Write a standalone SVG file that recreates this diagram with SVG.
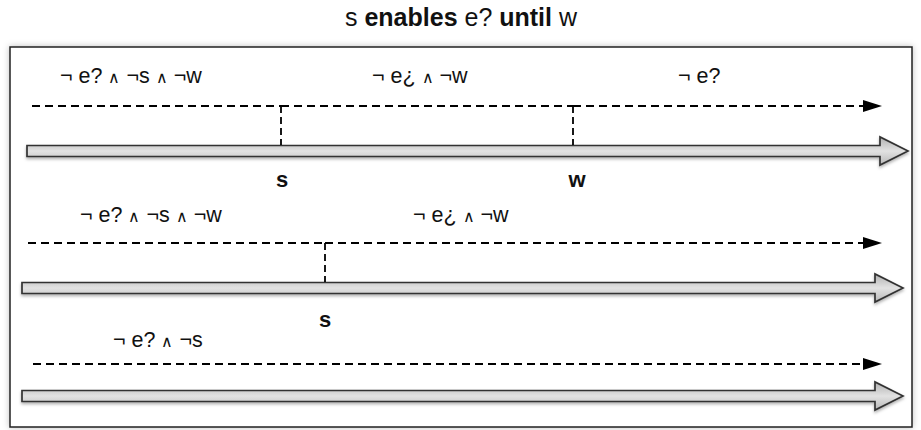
<svg xmlns="http://www.w3.org/2000/svg" width="921" height="430" viewBox="0 0 921 430">
  <style>
    .t { font-family: "Liberation Sans", Arial, sans-serif; fill: #111; }
    .title { font-size: 25px; }
    .lbl { font-size: 21.5px; }
    .and { font-size: 16px; }
    .mk { font-size: 22px; font-weight: bold; }
    .b { font-weight: bold; }
    .dash { fill: none; stroke: #000; stroke-width: 1.8; stroke-dasharray: 8 5; }
    .vdash { fill: none; stroke: #000; stroke-width: 1.8; stroke-dasharray: 7 4; }
    .big { fill: url(#shaft); stroke: #333; stroke-width: 1.7; stroke-linejoin: miter; filter: url(#sh); }
  </style>
  <defs>
    <linearGradient id="shaft" x1="0" y1="0" x2="0" y2="1">
      <stop offset="0" stop-color="#b0b0b0"/>
      <stop offset="0.5" stop-color="#e2e2e2"/>
      <stop offset="1" stop-color="#b8b8b8"/>
    </linearGradient>
    <filter id="sh" x="-5%" y="-50%" width="110%" height="200%">
      <feDropShadow dx="0" dy="2" stdDeviation="1.5" flood-color="#000" flood-opacity="0.3"/>
    </filter>
    <filter id="boxsh" x="-5%" y="-5%" width="110%" height="110%">
      <feDropShadow dx="0" dy="0" stdDeviation="3" flood-color="#000" flood-opacity="0.25"/>
    </filter>
    <marker id="ah" markerUnits="userSpaceOnUse" markerWidth="20" markerHeight="14" refX="0" refY="6" orient="auto">
      <path d="M0,0 L19,6 L0,12 Z" fill="#000" stroke="none"/>
    </marker>
  </defs>

  <text class="t title" x="461" y="26" text-anchor="middle">s <tspan class="b">enables</tspan> e? <tspan class="b">until</tspan> w</text>

  <rect id="frame" x="10" y="47" width="902" height="380" fill="#fff" stroke="#222" stroke-width="1.5" filter="url(#boxsh)"/>

  <g id="timeline1">
    <path class="big" d="M27,145.5 H880 V137 L908,151 L880,165 V156.5 H27 Z"/>
    <text class="t lbl" x="60" y="83">¬ e? <tspan class="and">∧</tspan> ¬s <tspan class="and">∧</tspan> ¬w</text>
    <text class="t lbl" x="372" y="83">¬ e¿ <tspan class="and">∧</tspan> ¬w</text>
    <text class="t lbl" x="678" y="83">¬ e?</text>
    <text class="t mk" x="282" y="187" text-anchor="middle">s</text>
    <text class="t mk" x="577" y="187" text-anchor="middle">w</text>
  </g>

  <g id="timeline2">
    <path class="big" d="M22,282.5 H875 V274 L903,288 L875,302 V293.5 H22 Z"/>
    <text class="t lbl" x="80" y="222">¬ e? <tspan class="and">∧</tspan> ¬s <tspan class="and">∧</tspan> ¬w</text>
    <text class="t lbl" x="413" y="222">¬ e¿ <tspan class="and">∧</tspan> ¬w</text>
    <text class="t mk" x="325" y="327" text-anchor="middle">s</text>
  </g>

  <g id="timeline3">
    <path class="big" d="M22,390.5 H875 V382 L903,396 L875,410 V401.5 H22 Z"/>
    <text class="t lbl" x="113" y="347">¬ e? <tspan class="and">∧</tspan> ¬s</text>
  </g>

  <g id="connectors">
    <path class="dash" d="M32,106 H281"/>
    <path class="dash" d="M281,106 H573"/>
    <path class="dash" d="M573,106 H863" marker-end="url(#ah)"/>
    <path class="vdash" d="M281,106 V145"/>
    <path class="vdash" d="M573,106 V145"/>

    <path class="dash" d="M28,243 H325"/>
    <path class="dash" d="M325,243 H863" marker-end="url(#ah)"/>
    <path class="vdash" d="M325,243 V282"/>

    <path class="dash" d="M33,364 H863" marker-end="url(#ah)"/>
  </g>
</svg>
